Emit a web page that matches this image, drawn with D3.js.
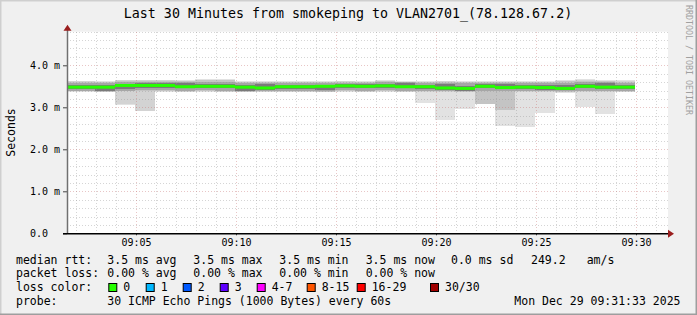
<!DOCTYPE html>
<html>
<head>
<meta charset="utf-8">
<script src="https://cdn.jsdelivr.net/npm/d3@7"></script>
<style>
  html, body { margin: 0; padding: 0; background: #f0f0f0; }
  svg { display: block; }
  text { font-family: "DejaVu Sans Mono", monospace; fill: #000; }
</style>
</head>
<body>
<svg id="canvas"></svg>
<script>
// end time of each 60s step (the first step is clipped at the graph start)
const binEnds = ["09:02:57", "09:03:57", "09:04:57", "09:05:57", "09:06:57", "09:07:57", "09:08:57",
    "09:09:57", "09:10:57", "09:11:57", "09:12:57", "09:13:57", "09:14:57", "09:15:57", "09:16:57",
    "09:17:57", "09:18:57", "09:19:57", "09:20:57", "09:21:57", "09:22:57", "09:23:57", "09:24:57",
    "09:25:57", "09:26:57", "09:27:57", "09:28:57", "09:29:57"];

// median rtt (ms)
const median = [3.48, 3.48, 3.52, 3.52, 3.52, 3.49, 3.50, 3.50, 3.48, 3.46, 3.49, 3.49, 3.50, 3.51,
    3.50, 3.51, 3.49, 3.49, 3.46, 3.45, 3.50, 3.47, 3.48, 3.47, 3.45, 3.50, 3.48, 3.48];

// smoke: sorted ping ranges, outermost (min/max) to innermost (ms)
const lo1 = [3.37, 3.36, 3.05, 2.91, 3.37, 3.36, 3.37, 3.36, 3.36, 3.36, 3.36, 3.36, 3.36, 3.37,
    3.36, 3.37, 3.36, 3.10, 2.69, 2.96, 3.08, 2.55, 2.53, 2.86, 3.35, 3.01, 2.84, 3.36];
const hi1 = [3.62, 3.62, 3.65, 3.65, 3.65, 3.64, 3.68, 3.68, 3.62, 3.62, 3.62, 3.62, 3.62, 3.62,
    3.62, 3.64, 3.62, 3.62, 3.63, 3.62, 3.62, 3.62, 3.62, 3.62, 3.64, 3.67, 3.64, 3.64];
const lo2 = [3.38, 3.37, 3.07, 2.92, 3.38, 3.37, 3.38, 3.37, 3.37, 3.37, 3.37, 3.37, 3.37, 3.38,
    3.37, 3.38, 3.37, 3.37, 3.37, 3.36, 3.08, 2.94, 3.37, 3.37, 3.36, 3.37, 3.37, 3.37];
const hi2 = [3.62, 3.61, 3.64, 3.64, 3.64, 3.63, 3.66, 3.66, 3.61, 3.61, 3.61, 3.61, 3.61, 3.62,
    3.61, 3.63, 3.61, 3.61, 3.62, 3.61, 3.61, 3.61, 3.61, 3.61, 3.63, 3.65, 3.63, 3.63];
const lo3 = [3.39, 3.37, 3.38, 3.39, 3.39, 3.38, 3.39, 3.38, 3.37, 3.38, 3.38, 3.38, 3.37, 3.39,
    3.38, 3.39, 3.38, 3.38, 3.38, 3.37, 3.09, 2.94, 3.38, 3.38, 3.37, 3.38, 3.38, 3.38];
const hi3 = [3.60, 3.60, 3.62, 3.62, 3.62, 3.62, 3.64, 3.64, 3.60, 3.60, 3.60, 3.60, 3.60, 3.61,
    3.60, 3.62, 3.60, 3.60, 3.61, 3.60, 3.60, 3.61, 3.60, 3.60, 3.62, 3.63, 3.62, 3.61];
const lo4 = [3.40, 3.38, 3.40, 3.41, 3.41, 3.40, 3.41, 3.40, 3.38, 3.39, 3.40, 3.40, 3.39, 3.41,
    3.40, 3.41, 3.40, 3.40, 3.39, 3.38, 3.40, 3.39, 3.40, 3.39, 3.38, 3.40, 3.40, 3.40];
const hi4 = [3.58, 3.57, 3.60, 3.60, 3.60, 3.60, 3.60, 3.60, 3.57, 3.58, 3.58, 3.58, 3.58, 3.59,
    3.58, 3.60, 3.60, 3.58, 3.58, 3.57, 3.58, 3.59, 3.58, 3.57, 3.59, 3.60, 3.60, 3.58];
const lo5 = [3.43, 3.39, 3.43, 3.47, 3.47, 3.45, 3.45, 3.45, 3.39, 3.42, 3.44, 3.44, 3.41, 3.46,
    3.45, 3.46, 3.45, 3.44, 3.42, 3.40, 3.45, 3.43, 3.43, 3.42, 3.41, 3.45, 3.44, 3.43];
const hi5 = [3.53, 3.52, 3.56, 3.57, 3.57, 3.58, 3.55, 3.55, 3.52, 3.55, 3.54, 3.54, 3.54, 3.56,
    3.55, 3.56, 3.58, 3.54, 3.55, 3.50, 3.55, 3.56, 3.53, 3.52, 3.54, 3.55, 3.57, 3.53];

const yTickValues = [0, 1, 2, 3, 4];
const yTickLabels = ["0.0", "1.0 m", "2.0 m", "3.0 m", "4.0 m"];

const titleText = "Last 30 Minutes from smokeping to VLAN2701_(78.128.67.2)";
const rttStats = ["3.5 ms avg", "3.5 ms max", "3.5 ms min", "3.5 ms now", "0.0 ms sd", "249.2", "am/s"];
const lossStats = ["0.00 % avg", "0.00 % max", "0.00 % min", "0.00 % now"];
const lossLabels = ["0", "1", "2", "3", "4-7", "8-15", "16-29", "30/30"];
const lossColors = ["#26ff00", "#00b8ff", "#0059ff", "#5e00ff", "#ff00ff", "#ff5500", "#ff0000", "#a00000"];
const probeText = "30 ICMP Echo Pings (1000 Bytes) every 60s";
const stampText = "Mon Dec 29 09:31:33 2025";

const width = 697, height = 315;
const plotLeft = 67, plotRight = 667, plotTop = 31.7, plotBottom = 233.3;

const parseTime = d3.timeParse("%H:%M:%S");
const tStart = parseTime("09:01:33"), tEnd = parseTime("09:31:33");

const x = d3.scaleTime().domain([tStart, tEnd]).range([plotLeft, plotRight]);
const y = d3.scaleLinear().domain([0, 4.8]).range([plotBottom, plotTop]);

const svg = d3.select("#canvas").attr("width", width).attr("height", height);

// background + shaded frame
svg.append("rect").attr("width", width).attr("height", height).attr("fill", "#f0f0f0");
svg.append("path").attr("d", `M0,${height} V0 H${width}`).attr("fill", "none")
    .attr("stroke", "#cfcfcf").attr("stroke-width", 3);
svg.append("path").attr("d", `M0,${height} H${width} V0`).attr("fill", "none")
    .attr("stroke", "#9e9e9e").attr("stroke-width", 3);

svg.append("rect")
    .attr("x", plotLeft).attr("y", plotTop)
    .attr("width", plotRight - plotLeft + 1).attr("height", plotBottom - plotTop)
    .attr("fill", "#ffffff");

// smoke
const bins = binEnds.map((t, i) => ({
    start: i === 0 ? tStart : parseTime(binEnds[i - 1]),
    end: parseTime(t),
    i
}));

const layers = [
    { lo: lo1, hi: hi1, color: "#e2e2e2" },
    { lo: lo2, hi: hi2, color: "#d3d3d3" },
    { lo: lo3, hi: hi3, color: "#c4c4c4" },
    { lo: lo4, hi: hi4, color: "#a6a6a6" },
    { lo: lo5, hi: hi5, color: "#7a7a7a" }
];

layers.forEach(layer => {
    svg.append("g").selectAll("rect")
        .data(bins)
        .enter()
        .append("rect")
        .attr("x", d => x(d.start))
        .attr("width", d => x(d.end) - x(d.start))
        .attr("y", d => y(layer.hi[d.i]))
        .attr("height", d => y(layer.lo[d.i]) - y(layer.hi[d.i]))
        .attr("fill", layer.color)
        .attr("shape-rendering", "crispEdges");
});

// grid
const minorColor = "rgba(150,150,150,0.4)";
const majorColor = "rgba(200,120,120,0.42)";
const grid = svg.append("g").attr("shape-rendering", "crispEdges");
const minorY = y.ticks(24).filter(v => v > 0 && Math.abs(v - Math.round(v)) > 1e-6);
const majorX = x.ticks(d3.timeMinute.every(5));
const minorX = x.ticks(d3.timeMinute.every(1)).filter(t => t.getMinutes() % 5 !== 0);

grid.selectAll(".ymin").data(minorY).enter().append("line")
    .attr("x1", plotLeft).attr("x2", plotRight + 1)
    .attr("y1", d => Math.round(y(d)) + 0.5).attr("y2", d => Math.round(y(d)) + 0.5)
    .attr("stroke", minorColor).attr("stroke-dasharray", "1,2");
grid.selectAll(".xmin").data(minorX).enter().append("line")
    .attr("x1", d => Math.round(x(d)) + 0.5).attr("x2", d => Math.round(x(d)) + 0.5)
    .attr("y1", plotTop).attr("y2", plotBottom)
    .attr("stroke", minorColor).attr("stroke-dasharray", "1,2");
grid.selectAll(".ymaj").data(yTickValues.filter(v => v > 0)).enter().append("line")
    .attr("x1", plotLeft).attr("x2", plotRight + 1)
    .attr("y1", d => Math.round(y(d)) + 0.5).attr("y2", d => Math.round(y(d)) + 0.5)
    .attr("stroke", majorColor).attr("stroke-dasharray", "1,2");
grid.selectAll(".xmaj").data(majorX).enter().append("line")
    .attr("x1", d => Math.round(x(d)) + 0.5).attr("x2", d => Math.round(x(d)) + 0.5)
    .attr("y1", plotTop).attr("y2", plotBottom)
    .attr("stroke", majorColor).attr("stroke-dasharray", "1,2");

// median rtt, coloured by loss (all 0 loss here)
svg.append("g").selectAll("line")
    .data(bins)
    .enter()
    .append("line")
    .attr("x1", d => x(d.start))
    .attr("x2", d => x(d.end))
    .attr("y1", d => y(median[d.i]))
    .attr("y2", d => y(median[d.i]))
    .attr("stroke", lossColors[0])
    .attr("stroke-width", 3);

// axes
const yAxis = d3.axisLeft(y)
    .tickValues(yTickValues)
    .tickFormat((d, i) => yTickLabels[i])
    .tickSize(4)
    .tickSizeOuter(0);
const yAxisG = svg.append("g")
    .attr("transform", `translate(${plotLeft},0)`)
    .call(yAxis);
yAxisG.select(".domain").remove();
yAxisG.selectAll(".tick line").attr("stroke", "#444");
yAxisG.selectAll(".tick text")
    .attr("x", 30 - plotLeft)
    .attr("dy", "0.35em")
    .attr("text-anchor", "start")
    .style("font-family", "DejaVu Sans Mono")
    .style("font-size", "10px");

const xAxis = d3.axisBottom(x)
    .ticks(d3.timeMinute.every(5))
    .tickFormat(d3.timeFormat("%H:%M"))
    .tickSize(2)
    .tickPadding(4)
    .tickSizeOuter(0);
const xAxisG = svg.append("g")
    .attr("transform", `translate(0,${plotBottom})`)
    .call(xAxis);
xAxisG.select(".domain").remove();
xAxisG.selectAll(".tick line").attr("stroke", "#444");
xAxisG.selectAll(".tick text")
    .style("font-family", "DejaVu Sans Mono")
    .style("font-size", "10px");

// axis lines with arrows
svg.append("line")
    .attr("x1", plotLeft + 0.5).attr("x2", plotLeft + 0.5)
    .attr("y1", plotBottom).attr("y2", plotTop - 2)
    .attr("stroke", "#707070").attr("stroke-width", 1.5);
svg.append("line")
    .attr("x1", plotLeft - 4).attr("x2", plotRight + 2)
    .attr("y1", plotBottom + 0.5).attr("y2", plotBottom + 0.5)
    .attr("stroke", "#000").attr("stroke-width", 1.5);
svg.append("path")
    .attr("d", `M${plotLeft - 3.5},${plotTop - 1} L${plotLeft + 4.5},${plotTop - 1} L${plotLeft + 0.5},${plotTop - 7} Z`)
    .attr("fill", "#9a1e1e");
svg.append("path")
    .attr("d", `M${plotRight + 1},${plotBottom - 3.5} L${plotRight + 1},${plotBottom + 4.5} L${plotRight + 7},${plotBottom + 0.5} Z`)
    .attr("fill", "#9a1e1e");

// title
svg.append("text")
    .attr("x", 348).attr("y", 13.3)
    .attr("text-anchor", "middle")
    .attr("dominant-baseline", "central")
    .style("font-size", "13.3px")
    .text(titleText);

// y label
svg.append("text")
    .attr("transform", "translate(11,132.5) rotate(-90)")
    .attr("text-anchor", "middle")
    .attr("dominant-baseline", "central")
    .style("font-size", "11.5px")
    .text("Seconds");

// watermark
svg.append("text")
    .attr("transform", "translate(688.5,60) rotate(90)")
    .attr("text-anchor", "middle")
    .attr("dominant-baseline", "central")
    .style("font-size", "8.3px")
    .style("fill", "#a0a0a0")
    .text("RRDTOOL / TOBI OETIKER");

// legend
const legendFont = "11.5px";
const rowY = [259.5, 273, 287, 301];
const statX = [107.3, 193.3, 279.3, 365.7, 451, 531, 586.7];
const boxX = [108.3, 145.7, 182.7, 219.7, 256.7, 306.7, 356.7, 430];

const addText = (tx, ty, str, anchor) => svg.append("text")
    .attr("x", tx).attr("y", ty)
    .attr("text-anchor", anchor || "start")
    .attr("dominant-baseline", "central")
    .attr("xml:space", "preserve")
    .style("font-size", legendFont)
    .text(str);

addText(16, rowY[0], "median rtt:");
rttStats.forEach((s, i) => addText(statX[i], rowY[0], s));
addText(16, rowY[1], "packet loss:");
lossStats.forEach((s, i) => addText(statX[i], rowY[1], s));
addText(16, rowY[2], "loss color:");
lossLabels.forEach((s, i) => {
    svg.append("rect")
        .attr("x", boxX[i] + 0.5).attr("y", rowY[2] - 3.5)
        .attr("width", 8).attr("height", 8)
        .attr("fill", lossColors[i])
        .attr("stroke", "#000").attr("stroke-width", 1);
    addText(boxX[i] + 15, rowY[2], s);
});
addText(16, rowY[3], "probe:");
addText(statX[0], rowY[3], probeText);
addText(680.5, rowY[3], stampText, "end");
</script>
</body>
</html>
